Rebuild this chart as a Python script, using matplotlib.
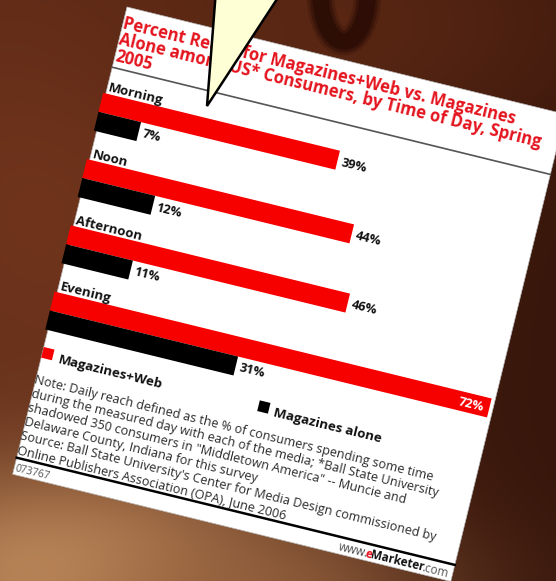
import numpy as np
import matplotlib
matplotlib.use("Agg")
import matplotlib.pyplot as plt
from matplotlib.transforms import Affine2D
from matplotlib.patches import Rectangle, Polygon, Ellipse

# ---------------- data ----------------
periods = ["Morning", "Noon", "Afternoon", "Evening"]
mag_web = [39, 44, 46, 72]
mag_alone = [7, 12, 11, 31]
series_names = ["Magazines+Web", "Magazines alone"]
title_lines = ["Percent Reach for Magazines+Web vs. Magazines",
               "Alone among US* Consumers, by Time of Day, Spring",
               "2005"]
note_lines = ["Note: Daily reach defined as the % of consumers spending some time",
              "during the measured day with each of the media; *Ball State University",
              "shadowed 350 consumers in \"Middletown America\" -- Muncie and",
              "Delaware County, Indiana for this survey",
              "Source: Ball State University's Center for Media Design commissioned by",
              "Online Publishers Association (OPA), June 2006"]
chart_id = "073767"

# ---------------- figure ----------------
W, H = 556, 581
fig = plt.figure(figsize=(W / 100, H / 100), dpi=100)
ax = fig.add_axes([0, 0, 1, 1])
ax.axis("off")

FONT = "Open Sans"
RED_BAR = "#f60000"
RED_TXT = "#e4141e"

# background (brown photo backdrop)
yy, xx = np.mgrid[0:H, 0:W]
img = np.ones((H, W, 3)) * np.array([52, 20, 10]) / 255.0


def blob(im, cx, cy, sx, sy, col, a=1.0):
    w = a * np.exp(-(((xx - cx) / sx) ** 2 + ((yy - cy) / sy) ** 2) / 2)[..., None]
    return im * (1 - w) + np.array(col) / 255.0 * w


img = blob(img, 40, 200, 230, 300, (112, 52, 28))
img = blob(img, 330, 20, 200, 90, (92, 40, 20), 0.8)
img = blob(img, 60, 575, 170, 85, (190, 138, 92))
img = blob(img, 250, 590, 140, 50, (150, 98, 62), 0.7)
ax.imshow(img, extent=(0, W, H, 0), zorder=0, aspect="auto", interpolation="bilinear")

# big dark "0" shape behind card
for lw, a in [(20, 0.25), (16, 0.45), (12, 0.8)]:
    ax.add_patch(Ellipse((344, -6), 47, 95, fill=False, edgecolor="#2a0c04", lw=lw, alpha=a, zorder=0.5))

# ---------------- rotated card ----------------
theta = 13.75
T = Affine2D().rotate_deg(theta).translate(127, 7) + ax.transData
card_w, card_h = 451, 481
card = Rectangle((0, 0), card_w, card_h, transform=T, facecolor="white", edgecolor="#bbbbbb", lw=0.5, zorder=1)
ax.add_patch(card)
rot = -theta


def ctext(u, v, s, **kw):
    t = ax.text(u, v, s, transform=T, rotation=rot, rotation_mode="anchor", family=FONT, zorder=3, **kw)
    t.set_clip_path(card)
    return t


# title
for i, line in enumerate(title_lines):
    ctext(0.5, 22 + 16.5 * i, line, fontsize=12.0, fontweight="bold", color=RED_TXT, ha="left", va="baseline")

# separator
ax.plot([0, card_w], [62, 62], transform=T, color="#555555", lw=1.2, zorder=2, clip_path=card)

# bars: x in percent, y in card pixels
scale, x0 = 6.25, -2.75
BT = Affine2D().scale(scale, 1).translate(x0, 0) + T
first_top, spacing, bh = 89, 68.2, 19.5
red_c = [first_top + spacing * i + bh / 2 for i in range(len(periods))]
blk_c = [c + bh for c in red_c]
ax.barh(red_c, mag_web, height=bh, color=RED_BAR, transform=BT, zorder=2, clip_path=card)
ax.barh(blk_c, mag_alone, height=bh, color="black", transform=BT, zorder=2, clip_path=card)

for i, p in enumerate(periods):
    ctext(1.5, red_c[i] - bh / 2 - 2.5, p, fontsize=9.5, fontweight="bold", color="#111111", ha="left", va="baseline")

px = 1.0 / scale
VFS = 9.2
for i, v in enumerate(mag_web):
    if v == max(mag_web):
        t = ax.text(v - 0.9, red_c[i] + 4.5, f"{v}%", transform=BT, rotation=rot, rotation_mode="anchor",
                    family=FONT, fontsize=VFS, fontweight="bold", color="white", ha="right", va="baseline", zorder=3)
    else:
        t = ax.text(v + 4 * px, red_c[i] + 4.5, f"{v}%", transform=BT, rotation=rot, rotation_mode="anchor",
                    family=FONT, fontsize=VFS, fontweight="bold", color="#111111", ha="left", va="baseline", zorder=3)
    t.set_clip_path(card)
for i, v in enumerate(mag_alone):
    t = ax.text(v + 4 * px, blk_c[i] + 4.5, f"{v}%", transform=BT, rotation=rot, rotation_mode="anchor",
                family=FONT, fontsize=VFS, fontweight="bold", color="#111111", ha="left", va="baseline", zorder=3)
    t.set_clip_path(card)

# legend
leg_v = 356
ax.add_patch(Rectangle((0, leg_v - 6), 11, 11, transform=T, facecolor=RED_BAR, edgecolor="none", zorder=2, clip_path=card))
ctext(17, leg_v + 6.5, series_names[0], fontsize=9.6, fontweight="bold", color="#111111", ha="left", va="baseline")
ax.add_patch(Rectangle((222.5, leg_v - 5.5), 11, 11, transform=T, facecolor="black", edgecolor="none", zorder=2, clip_path=card))
ctext(239, leg_v + 7, series_names[1], fontsize=9.6, fontweight="bold", color="#111111", ha="left", va="baseline")

# notes
for i, line in enumerate(note_lines):
    ctext(-1, 387 + 14.6 * i, line, fontsize=9.1, color="#2a2a2a", ha="left", va="baseline")

# bottom rule and footer
ax.plot([0, card_w], [464, 464], transform=T, color="black", lw=1.8, zorder=2, clip_path=card)
ctext(1, 477, chart_id, fontsize=7.5, color="#555555", ha="left", va="baseline")
ctext(334, 477.5, "www.", fontsize=8.5, color="#444444", ha="left", va="baseline")
ctext(361, 477.5, "e", fontsize=8.5, fontweight="bold", color=RED_TXT, ha="left", va="baseline")
ctext(367.5, 477.5, "Marketer", fontsize=8.5, fontweight="bold", color="#111111", ha="left", va="baseline")
ctext(420, 477.5, ".com", fontsize=8.5, color="#555555", ha="left", va="baseline")

# speech bubble
ax.add_patch(Polygon([(216, -10), (207, 106), (283, -10)], closed=True, facecolor="#ffffd6",
                     edgecolor="black", lw=1.8, joinstyle="miter", zorder=5))

ax.set_xlim(0, W)
ax.set_ylim(H, 0)
fig.savefig("out.png", dpi=100)
